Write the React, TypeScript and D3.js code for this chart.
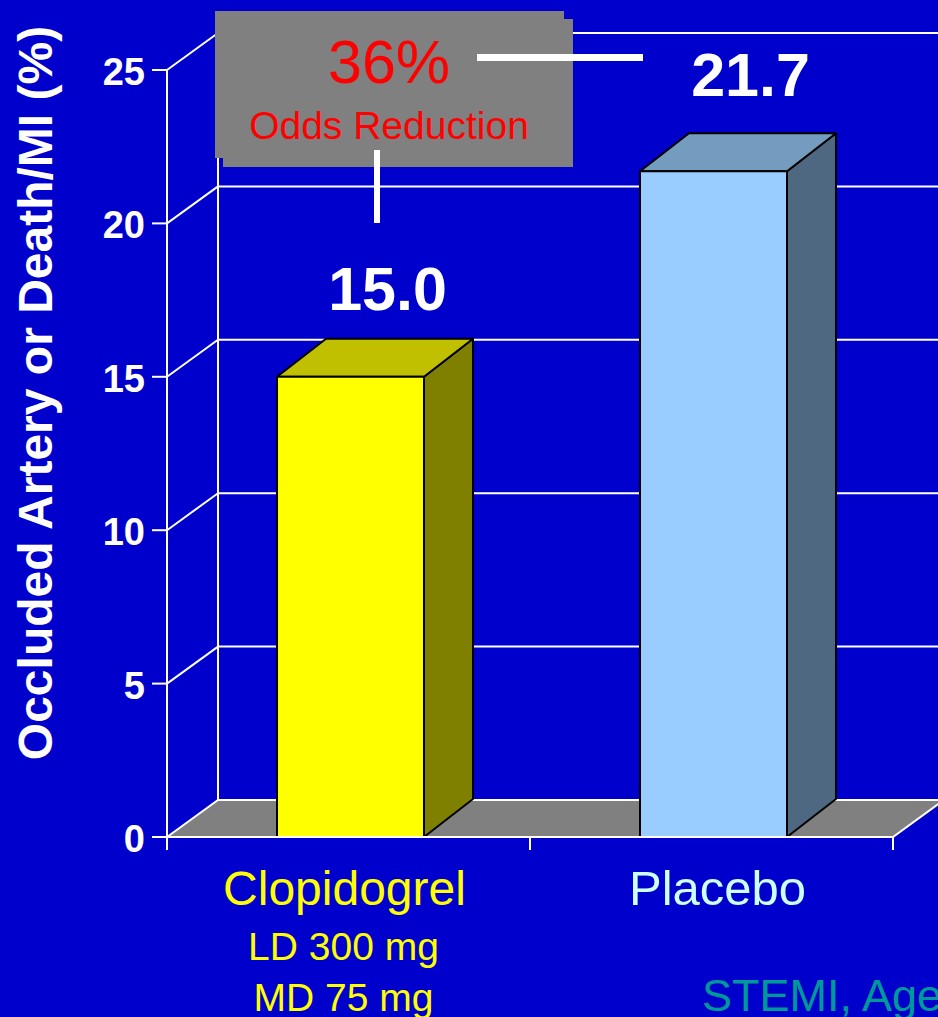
import React from "react";
import * as d3 from "d3";

// ---- data ----
const categories = ["Clopidogrel", "Placebo"];
const values = [15.0, 21.7];
const valueLabels = ["15.0", "21.7"];
const yTicks = [0, 5, 10, 15, 20, 25];
const subLabels = ["LD 300 mg", "MD 75 mg"];
const reductionValue = "36%";
const reductionCaption = "Odds Reduction";
const yTitle = "Occluded Artery or Death/MI (%)";
const footnote = "STEMI, Age 18-75";

// ---- styling ----
const frontColors = ["#FFFF00", "#99CCFF"];
const topColors = ["#C0C000", "#739CBF"];
const sideColors = ["#808000", "#4D6880"];
const categoryColors = ["#FFFF00", "#CCFFFF"];

const W = 938;
const H = 1017;
const FONT = "'Liberation Sans', Arial, Helvetica, sans-serif";

// plot frame (front plane)
const X0 = 167;
const X1 = 893;
const Y_BASE = 837;
const Y_TOP = 70;
// depth offset of the back wall and of the bar boxes
const WALL_DX = 51;
const WALL_DY = -37;
const BAR_DX = 49;
const BAR_DY = -38;
const BAR_W = 147;

const y = d3.scaleLinear().domain([0, 25]).range([Y_BASE, Y_TOP]);
const x = d3.scaleBand<string>().domain(categories).range([X0, X1]).padding(0);

const pts = (p: [number, number][]) => p.map((d) => d.join(",")).join(" ");

export default function App() {
  const yMax = y.domain()[1];
  const bandEdges = [X0, ...categories.map((c) => (x(c) as number) + x.bandwidth())];
  const barCenter = (c: string) => (x(c) as number) + x.bandwidth() / 2 + 2;

  return (
    <svg
      width={W}
      height={H}
      style={{ position: "absolute", left: 0, top: 0, display: "block" }}
      fontFamily={FONT}
    >
      <rect x={0} y={0} width={W} height={H} fill="#0000CC" />

      {/* back wall and side wall grid */}
      <g stroke="#FFFFFF" strokeWidth={2} fill="none">
        {yTicks
          .filter((t) => t > 0)
          .map((t) => (
            <g key={t}>
              <line
                x1={X0 + WALL_DX}
                x2={X1 + WALL_DX}
                y1={y(t) + WALL_DY}
                y2={y(t) + WALL_DY}
              />
              <line x1={X0} y1={y(t)} x2={X0 + WALL_DX} y2={y(t) + WALL_DY} />
            </g>
          ))}
        <line
          x1={X0 + WALL_DX}
          x2={X0 + WALL_DX}
          y1={y(yMax) + WALL_DY}
          y2={Y_BASE + WALL_DY}
        />
      </g>

      {/* floor */}
      <polygon
        points={pts([
          [X0, Y_BASE],
          [X0 + WALL_DX, Y_BASE + WALL_DY],
          [X1 + WALL_DX, Y_BASE + WALL_DY],
          [X1, Y_BASE],
        ])}
        fill="#808080"
        stroke="#FFFFFF"
        strokeWidth={2}
      />

      {/* 3D bars */}
      {categories.map((c, i) => {
        const cx = barCenter(c);
        const l = cx - BAR_W / 2;
        const r = cx + BAR_W / 2;
        const t = y(values[i]);
        const b = y(0);
        return (
          <g key={c} stroke="#000000" strokeWidth={2} strokeLinejoin="round">
            <polygon
              points={pts([
                [r, b],
                [r, t],
                [r + BAR_DX, t + BAR_DY],
                [r + BAR_DX, b + BAR_DY],
              ])}
              fill={sideColors[i]}
            />
            <polygon
              points={pts([
                [l, t],
                [l + BAR_DX, t + BAR_DY],
                [r + BAR_DX, t + BAR_DY],
                [r, t],
              ])}
              fill={topColors[i]}
            />
            <rect x={l} y={t} width={BAR_W} height={b - t} fill={frontColors[i]} />
          </g>
        );
      })}

      {/* front axis */}
      <g stroke="#FFFFFF" strokeWidth={2}>
        <line x1={X0} x2={X0} y1={y(yMax)} y2={Y_BASE + 13} />
        <line x1={X0} x2={X1} y1={Y_BASE} y2={Y_BASE} />
        {yTicks.map((t) => (
          <line key={t} x1={X0 - 15} x2={X0} y1={y(t)} y2={y(t)} />
        ))}
        {bandEdges.map((e, i) => (
          <line key={i} x1={e} x2={e} y1={Y_BASE} y2={Y_BASE + 13} />
        ))}
      </g>
      {yTicks.map((t) => (
        <text
          key={t}
          x={145}
          y={y(t) + 15}
          textAnchor="end"
          fill="#FFFFFF"
          fontWeight="bold"
          fontSize={38}
        >
          {t}
        </text>
      ))}

      {/* y axis title */}
      <text
        transform={`translate(52, 393) rotate(-90)`}
        textAnchor="middle"
        fill="#FFFFFF"
        fontWeight="bold"
        fontSize={48}
      >
        {yTitle}
      </text>

      {/* value labels above the bars */}
      {categories.map((c, i) => (
        <text
          key={c}
          x={barCenter(c) + 37}
          y={y(values[i]) - 67 - i * 8}
          textAnchor="middle"
          fill="#FFFFFF"
          fontWeight="bold"
          fontSize={61}
        >
          {valueLabels[i]}
        </text>
      ))}

      {/* odds reduction callout */}
      <rect x={223} y={19} width={350} height={148} fill="#808080" />
      <rect x={215} y={11} width={349} height={147} fill="#808080" />
      <text x={389} y={83} textAnchor="middle" fill="#FF0000" fontSize={61}>
        {reductionValue}
      </text>
      <text x={389} y={139} textAnchor="middle" fill="#FF0000" fontSize={39}>
        {reductionCaption}
      </text>
      <line x1={477} x2={643} y1={57.5} y2={57.5} stroke="#FFFFFF" strokeWidth={7} />
      <line x1={377} x2={377} y1={150} y2={223} stroke="#FFFFFF" strokeWidth={6} />

      {/* category labels */}
      {categories.map((c, i) => (
        <text
          key={c}
          x={barCenter(c) + (i === 0 ? -6 : 4)}
          y={905}
          textAnchor="middle"
          fill={categoryColors[i]}
          fontSize={i === 0 ? 48 : 49}
        >
          {c}
        </text>
      ))}
      {subLabels.map((s, i) => (
        <text
          key={s}
          x={barCenter(categories[0]) - 7}
          y={960 + i * 51}
          textAnchor="middle"
          fill={categoryColors[0]}
          fontSize={39}
        >
          {s}
        </text>
      ))}

      <text x={702} y={1011} fill="#009999" fontSize={45}>
        {footnote}
      </text>
    </svg>
  );
}
